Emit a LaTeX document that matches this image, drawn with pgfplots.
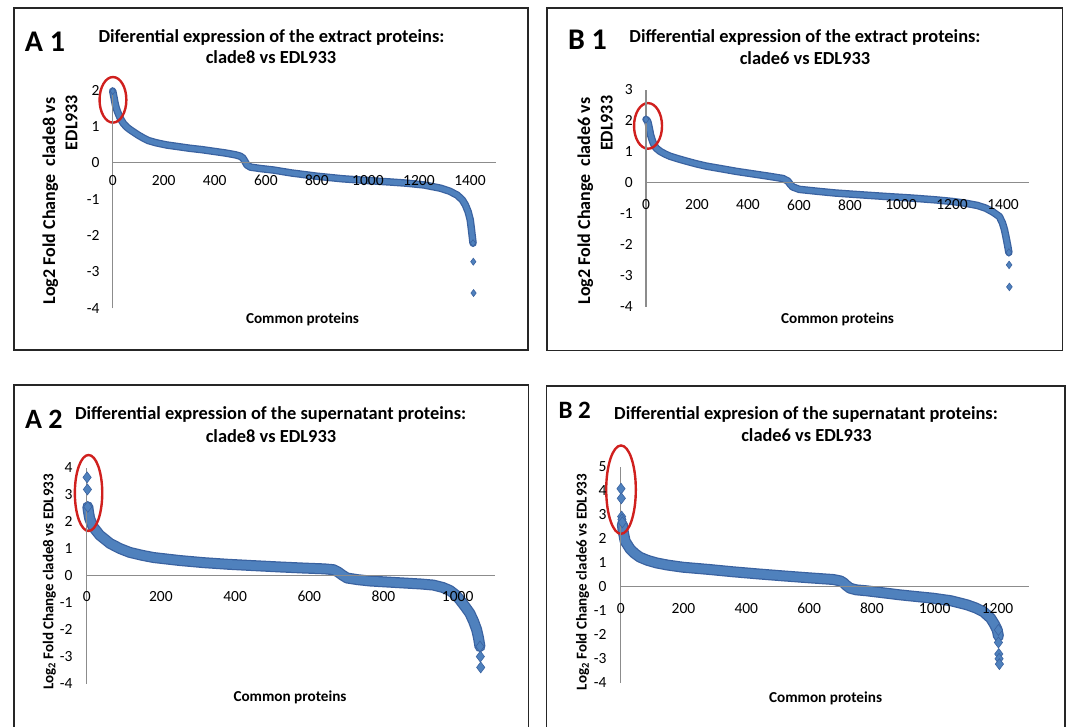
\documentclass[border=0pt]{standalone}
\usepackage{pgfplots}
\pgfplotsset{compat=1.18}
\usepackage{fontspec}
\setmainfont{Carlito}
\definecolor{bandfill}{HTML}{4F81BD}
\definecolor{bandedge}{HTML}{3A62A0}
\definecolor{axgray}{HTML}{8C8C8C}
\definecolor{ellred}{HTML}{D0201E}
\newcommand{\titlefont}{\bfseries\fontsize{18.4}{22}\selectfont}
\newcommand{\labfont}{\bfseries\fontsize{15.2}{18}\selectfont}
\pgfplotsset{
  panel/.style={
    scale only axis, clip=false, enlargelimits=false, axis on top,
    axis lines=middle, axis line style={-, draw=axgray, line width=1.1pt},
    major tick length=0pt, minor tick num=0,
    hide obscured x ticks=false, hide obscured y ticks=false,
    tick label style={font=\fontsize{15.5}{18}\selectfont, inner sep=0pt, text=black},
    anchor=south west,
  },
  darkband/.style={no markers, draw=bandedge, line join=round, line cap=round},
  lightband/.style={no markers, draw=bandfill, line join=round, line cap=round},
  pts/.style={only marks, mark=diamond*, mark options={fill=bandfill, draw=bandedge, line width=0.6pt}},
}
\begin{document}
\begin{tikzpicture}[x=1pt,y=1pt]
\useasboundingbox (0,0) rectangle (1068,726);
\fill[white] (0,0) rectangle (1068,726);

% ---------------- A1 ----------------
\begin{axis}[panel, at={(112.7pt,417.7pt)}, width=382.8pt, height=218.3pt,
  xmin=0, xmax=1500, ymin=-4, ymax=2,
  xtick={0,200,400,600,800,1000,1200,1400}, xticklabels={0,200,400,600,800,1000,1200,1400},
  ytick={-4,-3,-2,-1,0,1,2}, yticklabels={-4,-3,-2,-1,0,1,2},
  xticklabel style={anchor=center, yshift=-17.5pt},
  yticklabel style={anchor=east, xshift=-13pt}]
\addplot[darkband, line width=7.5pt] coordinates {
(0,1.97) (2,1.90) (5,1.80) (8,1.68) (12,1.55) (18,1.42) (25,1.30) (33,1.18) (42,1.08)
(55,0.98) (70,0.90) (85,0.83) (100,0.76) (120,0.68) (140,0.61) (170,0.55) (210,0.49)
(250,0.45) (300,0.40) (350,0.36) (400,0.31) (440,0.27) (480,0.22) (500,0.18) (510,0.13)
(518,0.04) (526,-0.06) (540,-0.12) (580,-0.16) (630,-0.20) (700,-0.28) (800,-0.37)
(900,-0.44) (960,-0.47) (1090,-0.53) (1150,-0.56) (1220,-0.61) (1285,-0.70) (1320,-0.78)
(1350,-0.89) (1370,-1.02) (1382,-1.16) (1393,-1.35) (1401,-1.57) (1406,-1.85) (1409,-2.03) (1412,-2.21)};
\addplot[lightband, line width=5pt] coordinates {
(0,1.97) (2,1.90) (5,1.80) (8,1.68) (12,1.55) (18,1.42) (25,1.30) (33,1.18) (42,1.08)
(55,0.98) (70,0.90) (85,0.83) (100,0.76) (120,0.68) (140,0.61) (170,0.55) (210,0.49)
(250,0.45) (300,0.40) (350,0.36) (400,0.31) (440,0.27) (480,0.22) (500,0.18) (510,0.13)
(518,0.04) (526,-0.06) (540,-0.12) (580,-0.16) (630,-0.20) (700,-0.28) (800,-0.37)
(900,-0.44) (960,-0.47) (1090,-0.53) (1150,-0.56) (1220,-0.61) (1285,-0.70) (1320,-0.78)
(1350,-0.89) (1370,-1.02) (1382,-1.16) (1393,-1.35) (1401,-1.57) (1406,-1.85) (1409,-2.03) (1412,-2.21)};
\addplot[pts, mark size=3.5pt] coordinates {(0,1.97) (1412,-2.21) (1413,-2.72) (1414,-3.58)};
\draw[ellred, line width=2.4pt] (axis cs:1,1.73) ellipse [x radius=13.4pt, y radius=22.8pt];
\end{axis}

% ---------------- B1 ----------------
\begin{axis}[panel, at={(646pt,419.3pt)}, width=382.5pt, height=216.7pt,
  xmin=0, xmax=1500, ymin=-4, ymax=3,
  xtick={0,200,400,600,800,1000,1200,1400}, xticklabels={0,200,400,600,800,1000,1200,1400},
  ytick={-4,-3,-2,-1,0,1,2,3}, yticklabels={-4,-3,-2,-1,0,1,2,3},
  xticklabel style={anchor=center, yshift=-22pt},
  yticklabel style={anchor=east, xshift=-13pt}]
\addplot[darkband, line width=7.5pt] coordinates {
(0,2.05) (4,2.02) (8,1.95) (12,1.80) (18,1.55) (25,1.36) (32,1.22) (40,1.12) (55,1.02)
(75,0.93) (94,0.86) (125,0.78) (159,0.70) (200,0.61) (237,0.54) (300,0.45) (355,0.37)
(420,0.29) (485,0.21) (537,0.14) (556,0.06) (566,-0.05) (575,-0.13) (601,-0.21) (670,-0.27)
(745,-0.33) (850,-0.39) (941,-0.44) (1040,-0.49) (1137,-0.55) (1200,-0.60) (1255,-0.66)
(1300,-0.73) (1333,-0.82) (1362,-0.95) (1386,-1.09) (1398,-1.30) (1406,-1.52) (1413,-1.80)
(1419,-2.06) (1423,-2.25)};
\addplot[lightband, line width=5pt] coordinates {
(0,2.05) (4,2.02) (8,1.95) (12,1.80) (18,1.55) (25,1.36) (32,1.22) (40,1.12) (55,1.02)
(75,0.93) (94,0.86) (125,0.78) (159,0.70) (200,0.61) (237,0.54) (300,0.45) (355,0.37)
(420,0.29) (485,0.21) (537,0.14) (556,0.06) (566,-0.05) (575,-0.13) (601,-0.21) (670,-0.27)
(745,-0.33) (850,-0.39) (941,-0.44) (1040,-0.49) (1137,-0.55) (1200,-0.60) (1255,-0.66)
(1300,-0.73) (1333,-0.82) (1362,-0.95) (1386,-1.09) (1398,-1.30) (1406,-1.52) (1413,-1.80)
(1419,-2.06) (1423,-2.25)};
\addplot[pts, mark size=3.8pt] coordinates {(0,2.05) (1423,-2.25) (1424,-2.65) (1425,-3.36)};
\draw[ellred, line width=2.4pt] (axis cs:8,1.84) ellipse [x radius=14pt, y radius=22.8pt];
\end{axis}

% ---------------- A2 ----------------
\begin{axis}[panel, at={(86.7pt,42.4pt)}, width=408.1pt, height=216pt,
  xmin=0, xmax=1100, ymin=-4, ymax=4,
  xtick={0,200,400,600,800,1000}, xticklabels={0,200,400,600,800,1000},
  ytick={-4,-3,-2,-1,0,1,2,3,4}, yticklabels={-4,-3,-2,-1,0,1,2,3,4},
  xticklabel style={anchor=center, yshift=-21pt},
  yticklabel style={anchor=east, xshift=-14pt}]
\addplot[darkband, line width=11pt] coordinates {
(3,2.55) (5,2.35) (8,2.12) (17,1.81) (35,1.50) (63,1.19) (90,1.00) (116,0.86) (150,0.75)
(180,0.67) (250,0.56) (315,0.48) (380,0.42) (449,0.37) (520,0.32) (584,0.28) (640,0.25)
(665,0.22) (678,0.13) (690,0.01) (702,-0.09) (730,-0.15) (764,-0.20) (800,-0.23) (850,-0.27)
(900,-0.31) (934,-0.35) (960,-0.44) (979,-0.55) (995,-0.72) (1006,-0.90) (1020,-1.15)
(1033,-1.40) (1043,-1.70) (1051,-2.00) (1056,-2.30) (1060,-2.63)};
\addplot[lightband, line width=8.5pt] coordinates {
(3,2.55) (5,2.35) (8,2.12) (17,1.81) (35,1.50) (63,1.19) (90,1.00) (116,0.86) (150,0.75)
(180,0.67) (250,0.56) (315,0.48) (380,0.42) (449,0.37) (520,0.32) (584,0.28) (640,0.25)
(665,0.22) (678,0.13) (690,0.01) (702,-0.09) (730,-0.15) (764,-0.20) (800,-0.23) (850,-0.27)
(900,-0.31) (934,-0.35) (960,-0.44) (979,-0.55) (995,-0.72) (1006,-0.90) (1020,-1.15)
(1033,-1.40) (1043,-1.70) (1051,-2.00) (1056,-2.30) (1060,-2.63)};
\addplot[pts, mark size=5.5pt] coordinates {(1,3.64) (2,3.19) (3,2.55) (1060,-2.63) (1061,-3.00) (1062,-3.40)};
\draw[ellred, line width=2.4pt] (axis cs:5,3.06) ellipse [x radius=13.7pt, y radius=38pt];
\end{axis}

% ---------------- B2 ----------------
\begin{axis}[panel, at={(620.7pt,43.2pt)}, width=408.2pt, height=216.2pt,
  xmin=0, xmax=1300, ymin=-4, ymax=5,
  xtick={0,200,400,600,800,1000,1200}, xticklabels={0,200,400,600,800,1000,1200},
  ytick={-4,-3,-2,-1,0,1,2,3,4,5}, yticklabels={-4,-3,-2,-1,0,1,2,3,4,5},
  xticklabel style={anchor=center, yshift=-22pt},
  yticklabel style={anchor=east, xshift=-14pt}]
\addplot[darkband, line width=11pt] coordinates {
(5,2.60) (8,2.30) (14,1.90) (30,1.57) (45,1.38) (61,1.23) (85,1.10) (114,0.99) (150,0.90)
(199,0.81) (280,0.72) (359,0.62) (440,0.53) (518,0.45) (600,0.37) (677,0.30) (700,0.24)
(710,0.16) (720,0.04) (730,-0.06) (750,-0.13) (783,-0.17) (840,-0.26) (890,-0.34) (950,-0.42)
(996,-0.48) (1050,-0.58) (1102,-0.75) (1130,-0.88) (1155,-1.04) (1178,-1.31) (1190,-1.56)
(1199,-1.80) (1203,-2.06)};
\addplot[lightband, line width=8.5pt] coordinates {
(5,2.60) (8,2.30) (14,1.90) (30,1.57) (45,1.38) (61,1.23) (85,1.10) (114,0.99) (150,0.90)
(199,0.81) (280,0.72) (359,0.62) (440,0.53) (518,0.45) (600,0.37) (677,0.30) (700,0.24)
(710,0.16) (720,0.04) (730,-0.06) (750,-0.13) (783,-0.17) (840,-0.26) (890,-0.34) (950,-0.42)
(996,-0.48) (1050,-0.58) (1102,-0.75) (1130,-0.88) (1155,-1.04) (1178,-1.31) (1190,-1.56)
(1199,-1.80) (1203,-2.06)};
\addplot[pts, mark size=5.5pt] coordinates {(1,4.08) (2,3.68) (3,2.92) (4,2.80) (5,2.68)
(1203,-1.80) (1203,-2.32) (1204,-2.80) (1205,-3.00) (1206,-3.22)};
\draw[ellred, line width=2.4pt] (axis cs:1,4.04) ellipse [x radius=14.8pt, y radius=44.2pt];
\end{axis}

% ---------------- frames ----------------
\draw[line width=1.6pt, black!85] (14,376) rectangle (528,718);
\draw[line width=1.6pt, black!85] (547,375.3) rectangle (1062.3,718);
\draw[line width=1.6pt, black!85] (14,-3) -- (14,341) -- (528.3,341) -- (528.3,-3);
\draw[line width=1.6pt, black!85] (546.5,-3) -- (546.5,340) -- (1064.7,340) -- (1064.7,-3);

% ---------------- texts ----------------
\node[anchor=base west, inner sep=0pt, font=\bfseries\fontsize{30}{30}\selectfont] at (24.7,674.7) {A 1};
\node[anchor=base, inner sep=0pt, font=\titlefont] at (271.5,683.6) {Diferential expression of the extract proteins:};
\node[anchor=base, inner sep=0pt, font=\titlefont] at (271,662.2) {clade8 vs EDL933};
\node[anchor=base, inner sep=0pt, font=\labfont] at (302.5,402) {Common proteins};
\node[anchor=base, inner sep=0pt, rotate=90, font=\bfseries\fontsize{18}{20}\selectfont] at (55,525) {Log2 Fold Change\ \ clade8 vs};
\node[anchor=base, inner sep=0pt, rotate=90, font=\bfseries\fontsize{18}{20}\selectfont] at (77.3,603.5) {EDL933};

\node[anchor=base west, inner sep=0pt, font=\bfseries\fontsize{30}{30}\selectfont] at (567.8,676.3) {B 1};
\node[anchor=base, inner sep=0pt, font=\titlefont] at (805,683) {Differential expression of the extract proteins:};
\node[anchor=base, inner sep=0pt, font=\titlefont] at (805,661.8) {clade6 vs EDL933};
\node[anchor=base, inner sep=0pt, font=\labfont] at (837.5,402) {Common proteins};
\node[anchor=base, inner sep=0pt, rotate=90, font=\bfseries\fontsize{18}{20}\selectfont] at (590,525) {Log2 Fold Change\ \ clade6 vs};
\node[anchor=base, inner sep=0pt, rotate=90, font=\bfseries\fontsize{18}{20}\selectfont] at (612.5,602.6) {EDL933};

\node[anchor=base west, inner sep=0pt, font=\bfseries\fontsize{28}{28}\selectfont] at (25,297.7) {A 2};
\node[anchor=base, inner sep=0pt, font=\titlefont] at (270.6,306.2) {Differential expression of the supernatant proteins:};
\node[anchor=base, inner sep=0pt, font=\titlefont] at (271,283.6) {clade8 vs EDL933};
\node[anchor=base, inner sep=0pt, font=\labfont] at (290,25) {Common proteins};
\node[anchor=base, inner sep=0pt, rotate=90, font=\bfseries\fontsize{15}{17}\selectfont] at (53.3,144.1) {Log\textsubscript{2} Fold Change clade8 vs EDL933};

\node[anchor=base west, inner sep=0pt, font=\bfseries\fontsize{25}{25}\selectfont] at (558.3,307.7) {B 2};
\node[anchor=base, inner sep=0pt, font=\titlefont] at (806,306.7) {Differential expresion of the supernatant proteins:};
\node[anchor=base, inner sep=0pt, font=\titlefont] at (806.5,284.2) {clade6 vs EDL933};
\node[anchor=base, inner sep=0pt, font=\labfont] at (825.6,23.3) {Common proteins};
\node[anchor=base, inner sep=0pt, rotate=90, font=\bfseries\fontsize{15}{17}\selectfont] at (586.7,144) {Log\textsubscript{2} Fold Change clade6 vs EDL933};
\end{tikzpicture}
\end{document}
